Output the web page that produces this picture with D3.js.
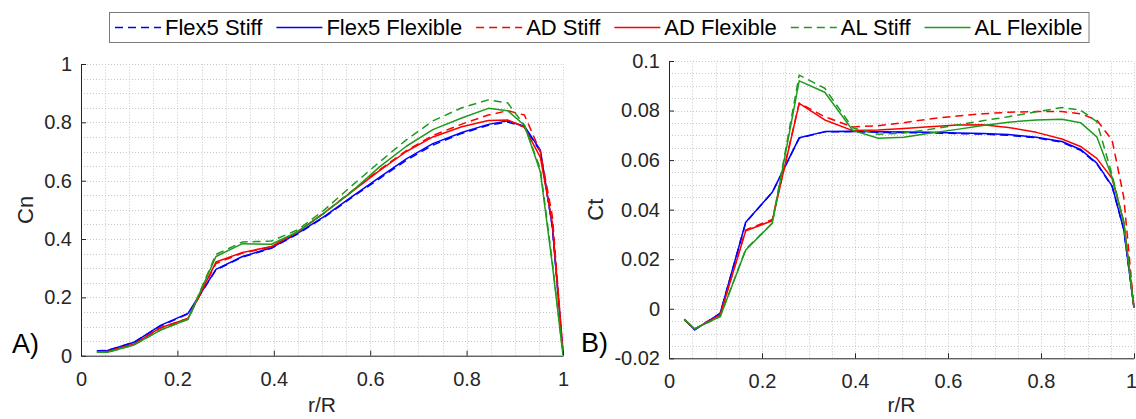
<!DOCTYPE html>
<html>
<head>
<meta charset="utf-8">
<script src="https://cdn.jsdelivr.net/npm/d3@7"></script>
<style>
  html, body { margin: 0; padding: 0; background: #fff; }
  svg { display: block; font-family: Arial, "Liberation Sans", sans-serif; }
</style>
</head>
<body>
<svg id="chart" width="1136" height="419"></svg>
<script>
// ---------------- data ----------------
const rR = [0.033, 0.055, 0.11, 0.165, 0.222, 0.28, 0.335, 0.395, 0.45, 0.505, 0.56, 0.62, 0.675, 0.73, 0.79, 0.845, 0.885, 0.92, 0.953, 0.978, 1.0];

const seriesNames = ["Flex5 Stiff", "Flex5 Flexible", "AD Stiff", "AD Flexible", "AL Stiff", "AL Flexible"];

// Normal force coefficient Cn
const cnFlex5Stiff    = [0.017, 0.018, 0.046, 0.102, 0.143, 0.294, 0.338, 0.368, 0.418, 0.475, 0.540, 0.608, 0.670, 0.722, 0.762, 0.790, 0.801, 0.785, 0.700, 0.440, 0.010];
const cnFlex5Flexible = [0.017, 0.018, 0.046, 0.104, 0.145, 0.296, 0.340, 0.370, 0.420, 0.478, 0.543, 0.612, 0.675, 0.727, 0.765, 0.793, 0.805, 0.787, 0.705, 0.442, 0.010];
const cnADStiff       = [0.013, 0.014, 0.040, 0.095, 0.128, 0.316, 0.352, 0.373, 0.425, 0.490, 0.562, 0.638, 0.703, 0.755, 0.794, 0.825, 0.840, 0.825, 0.700, 0.477, 0.010];
const cnADFlexible    = [0.013, 0.014, 0.040, 0.096, 0.128, 0.321, 0.354, 0.374, 0.425, 0.490, 0.560, 0.635, 0.700, 0.750, 0.785, 0.806, 0.808, 0.783, 0.680, 0.454, 0.010];
const cnALStiff       = [0.012, 0.012, 0.037, 0.088, 0.125, 0.347, 0.390, 0.393, 0.432, 0.500, 0.580, 0.665, 0.740, 0.805, 0.850, 0.877, 0.867, 0.790, 0.640, 0.320, 0.003];
const cnALFlexible    = [0.012, 0.012, 0.037, 0.088, 0.125, 0.340, 0.384, 0.382, 0.425, 0.490, 0.560, 0.648, 0.718, 0.775, 0.815, 0.848, 0.840, 0.790, 0.631, 0.310, 0.003];

// Tangential force coefficient Ct
const ctFlex5Stiff    = [-0.0043, -0.0085, -0.0019, 0.0348, 0.0469, 0.0689, 0.0714, 0.0715, 0.0712, 0.0711, 0.0710, 0.0707, 0.0705, 0.0700, 0.0690, 0.0672, 0.0640, 0.0585, 0.0493, 0.0320, 0.0003];
const ctFlex5Flexible = [-0.0043, -0.0085, -0.0019, 0.0349, 0.0470, 0.0690, 0.0715, 0.0716, 0.0714, 0.0713, 0.0712, 0.0709, 0.0707, 0.0703, 0.0692, 0.0675, 0.0643, 0.0588, 0.0495, 0.0320, 0.0003];
const ctADStiff       = [-0.0043, -0.0082, -0.0025, 0.0318, 0.0360, 0.0830, 0.0775, 0.0734, 0.0739, 0.0751, 0.0766, 0.0778, 0.0787, 0.0793, 0.0796, 0.0796, 0.0787, 0.0762, 0.0680, 0.0450, 0.0003];
const ctADFlexible    = [-0.0043, -0.0082, -0.0025, 0.0315, 0.0355, 0.0829, 0.0762, 0.0719, 0.0721, 0.0728, 0.0735, 0.0742, 0.0743, 0.0732, 0.0712, 0.0685, 0.0655, 0.0607, 0.0526, 0.0350, 0.0003];
const ctALStiff       = [-0.0043, -0.0081, -0.0032, 0.0240, 0.0345, 0.0943, 0.0890, 0.0730, 0.0704, 0.0709, 0.0724, 0.0742, 0.0759, 0.0775, 0.0795, 0.0812, 0.0802, 0.0755, 0.0540, 0.0345, 0.0003];
const ctALFlexible    = [-0.0043, -0.0081, -0.0032, 0.0237, 0.0345, 0.0920, 0.0874, 0.0720, 0.0688, 0.0692, 0.0708, 0.0724, 0.0740, 0.0753, 0.0762, 0.0765, 0.0751, 0.0694, 0.0530, 0.0350, 0.0003];

// tick labels
const xTicks  = [0, 0.2, 0.4, 0.6, 0.8, 1];
const cnTicks = [0, 0.2, 0.4, 0.6, 0.8, 1];
const ctTicks = [-0.02, 0, 0.02, 0.04, 0.06, 0.08, 0.1];

// ---------------- styling ----------------
const seriesColor = ["#0000ff", "#0000ff", "#ff0000", "#ff0000", "#1e9a1e", "#1e9a1e"];
const seriesDash  = ["8,5", null, "8,5", null, "8,5", null];
const axisColor = "#262626";
const fmt = d => String(+d.toFixed(4));

const svg = d3.select("#chart");
svg.append("rect").attr("width", 1136).attr("height", 419).attr("fill", "#fff");

function panel(opts) {
  const { xRange, yRange, yDomain, yTicks, yMinorStep, series, yLabel, yLabelX, tag, tagX, tagY, lastXdx } = opts;
  const x = d3.scaleLinear().domain([0, 1]).range(xRange);
  const y = d3.scaleLinear().domain(yDomain).range(yRange);
  const g = svg.append("g");

  // minor grid
  const xMinor = d3.range(0, 1.0001, 0.05);
  const yMinor = d3.range(yDomain[0], yDomain[1] + yMinorStep / 2, yMinorStep);
  const grid = g.append("g");
  grid.selectAll(".vx").data(xMinor).join("line")
    .attr("x1", d => Math.round(x(d)) + 0.5).attr("x2", d => Math.round(x(d)) + 0.5)
    .attr("y1", yRange[0]).attr("y2", yRange[1])
    .attr("stroke", "#c8c8c8").attr("stroke-width", 1).attr("stroke-dasharray", "1,2");
  grid.selectAll(".hy").data(yMinor).join("line")
    .attr("y1", d => Math.round(y(d)) + 0.5).attr("y2", d => Math.round(y(d)) + 0.5)
    .attr("x1", xRange[0]).attr("x2", xRange[1])
    .attr("stroke", "#c8c8c8").attr("stroke-width", 1).attr("stroke-dasharray", "1,2");

  // lines
  const line = d3.line().x(d => x(d[0])).y(d => y(d[1]));
  series.forEach((vals, i) => {
    g.append("path")
      .datum(rR.map((r, k) => [r, vals[k]]))
      .attr("d", line)
      .attr("fill", "none")
      .attr("stroke", seriesColor[i])
      .attr("stroke-width", 1.5)
      .attr("stroke-linejoin", "round")
      .attr("stroke-dasharray", seriesDash[i]);
  });

  // axes
  const xAxis = d3.axisBottom(x).tickValues(xTicks).tickFormat(fmt).tickSizeInner(-5).tickSizeOuter(0).tickPadding(16);
  const yAxis = d3.axisLeft(y).tickValues(yTicks).tickFormat(fmt).tickSizeInner(-5).tickSizeOuter(0).tickPadding(9);
  const gx = g.append("g").attr("transform", `translate(0,${yRange[0]})`).call(xAxis);
  const gy = g.append("g").attr("transform", `translate(${xRange[0]},0)`).call(yAxis);
  [gx, gy].forEach(a => {
    a.select(".domain").attr("stroke", axisColor).attr("stroke-width", 1);
    a.selectAll(".tick line").attr("stroke", axisColor);
    a.selectAll(".tick text").attr("fill", axisColor).style("font-size", "20px")
      .style("font-family", "Arial, 'Liberation Sans', sans-serif");
  });
  if (lastXdx) {
    gx.selectAll(".tick text").filter(d => d === 1).attr("dx", lastXdx);
  }

  // axis labels
  g.append("text")
    .attr("x", (xRange[0] + xRange[1]) / 2).attr("y", 412)
    .attr("text-anchor", "middle").attr("fill", axisColor).style("font-size", "21px")
    .text("r/R");
  g.append("text")
    .attr("transform", `translate(${yLabelX},${(yRange[0] + yRange[1]) / 2}) rotate(-90)`)
    .attr("text-anchor", "middle").attr("fill", axisColor).style("font-size", "22px")
    .text(yLabel);
  g.append("text")
    .attr("x", tagX).attr("y", tagY)
    .attr("fill", "#000").style("font-size", "27px")
    .text(tag);
}

panel({
  xRange: [81, 563], yRange: [355.7, 64], yDomain: [0, 1], yTicks: cnTicks, yMinorStep: 0.05,
  series: [cnFlex5Stiff, cnFlex5Flexible, cnADStiff, cnADFlexible, cnALStiff, cnALFlexible],
  yLabel: "Cn", yLabelX: 33, tag: "A)", tagX: 12, tagY: 353
});
panel({
  xRange: [669, 1134], yRange: [358.3, 61], yDomain: [-0.02, 0.1], yTicks: ctTicks, yMinorStep: 0.005,
  series: [ctFlex5Stiff, ctFlex5Flexible, ctADStiff, ctADFlexible, ctALStiff, ctALFlexible],
  yLabel: "Ct", yLabelX: 603, tag: "B)", tagX: 581, tagY: 352, lastXdx: -3
});

// ---------------- legend ----------------
const leg = svg.append("g");
leg.append("rect")
  .attr("x", 109.5).attr("y", 12.5).attr("width", 979.5).attr("height", 30)
  .attr("fill", "#fff").attr("stroke", "#7a7a7a").attr("stroke-width", 1);
let cx = 115;
seriesNames.forEach((name, i) => {
  leg.append("line")
    .attr("x1", cx).attr("x2", cx + 46).attr("y1", 27.5).attr("y2", 27.5)
    .attr("stroke", seriesColor[i]).attr("stroke-width", 1.5)
    .attr("stroke-dasharray", seriesDash[i]);
  const t = leg.append("text")
    .attr("x", cx + 50).attr("y", 35)
    .attr("fill", "#000").style("font-size", "22px")
    .text(name);
  cx = cx + 50 + t.node().getComputedTextLength() + 14;
});
</script>
</body>
</html>
